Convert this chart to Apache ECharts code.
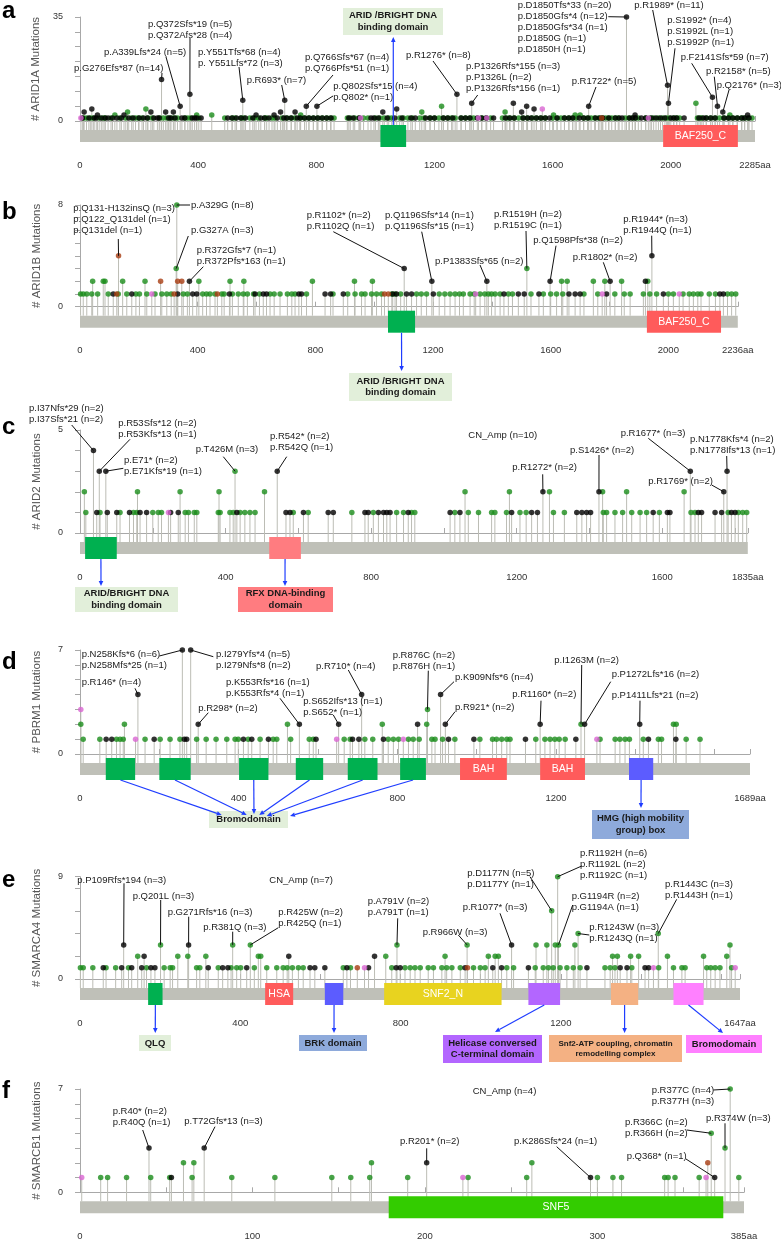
<!DOCTYPE html>
<html>
<head>
<meta charset="utf-8">
<script src="https://cdn.jsdelivr.net/npm/echarts@6/dist/echarts.min.js"></script>
<style>html,body{margin:0;padding:0;background:#fff;} #main{width:781px;height:1239px;}</style>
</head>
<body>
<div id="main"></div>
<script>
// ---------------- DATA ----------------
const GENES = ['ARID1A', 'ARID1B', 'ARID2', 'PBRM1', 'SMARCA4', 'SMARCB1'];
const PANEL_LETTERS = ['a', 'b', 'c', 'd', 'e', 'f'];
const LENGTHS = [2285, 2236, 1835, 1689, 1647, 385];
const Y_MAX = [35, 8, 5, 7, 9, 7];
const Y_TICK = [5, 1, 1, 1, 2, 1];
const X_TICK = [200, 200, 200, 200, 200, 50];
const X_LABELS = [
  [0, 400, 800, 1200, 1600, 2000],
  [0, 400, 800, 1200, 1600, 2000],
  [0, 400, 800, 1200, 1600],
  [0, 400, 800, 1200],
  [0, 400, 800, 1200],
  [0, 100, 200, 300]
];

// ARID1A
const ARID1A_truncating = [[276,14],[339,5],[372,9],[551,7],[693,7],[766,5],[802,5],[1276,9],[1326,6],[1722,5],[1850,35],[1989,12],[1992,6],[2141,8],[2158,5],[2176,3],[14,3],[40,4],[59,2],[149,2],[240,3],[290,3],[316,3],[596,2],[657,2],[679,3],[728,3],[1025,3],[1072,4],[1467,6],[1495,3],[1512,5],[1537,4],[1879,2],[2260,2]];
const ARID1A_truncating_single = [8,30,48,55,72,85,95,110,125,140,165,180,200,215,228,250,262,268,300,308,322,345,355,380,388,395,410,500,515,530,545,560,585,612,625,640,668,690,700,715,735,745,760,775,790,805,820,835,850,910,925,945,985,995,1010,1040,1065,1090,1120,1135,1170,1185,1200,1230,1245,1262,1290,1305,1320,1345,1360,1375,1400,1440,1455,1470,1500,1515,1528,1545,1560,1575,1590,1615,1640,1655,1668,1690,1705,1720,1745,1760,1770,1790,1812,1825,1835,1860,1870,1880,1900,1915,1935,1950,1965,1980,2000,2010,2020,2045,2095,2110,2120,2135,2150,2180,2195,2210,2225,2240,2250,2265];
const ARID1A_missense = [[118,2],[161,3],[223,4],[395,2],[446,2],[747,2],[1157,3],[1224,5],[1439,3],[1603,2],[1676,2],[1693,2],[2085,6],[2200,2]];
const ARID1A_missense_single = [12,22,35,45,65,78,85,105,135,155,175,188,198,210,230,245,270,282,295,305,318,330,355,365,375,402,490,515,525,545,555,575,590,605,625,632,650,660,685,700,715,728,745,760,775,790,805,820,835,848,860,905,915,930,945,960,975,1000,1015,1030,1045,1055,1082,1095,1110,1125,1150,1165,1185,1200,1215,1230,1245,1258,1270,1290,1305,1320,1332,1360,1375,1390,1430,1445,1455,1470,1485,1500,1515,1530,1545,1560,1575,1600,1615,1628,1640,1655,1668,1680,1705,1718,1730,1742,1755,1768,1780,1790,1800,1812,1822,1845,1858,1870,1880,1890,1915,1930,1942,1958,1972,1985,1995,2010,2020,2030,2090,2100,2105,2120,2135,2150,2165,2180,2195,2210,2225,2240,2250,2262,2275];
const ARID1A_inframe = [[1766,1]];
const ARID1A_other = [[3,1],[950,1],[1349,1],[1377,1],[1565,4],[1924,1]];

// ARID1B
const ARID1B_truncating = [[372,2],[1102,3],[1196,2],[1383,2],[1598,2],[1802,2],[1944,4],[1922,2]];
const ARID1B_truncating_single = [113,176,332,383,397,508,595,623,634,744,753,833,852,895,1063,1076,1110,1127,1201,1441,1490,1510,1560,1662,1683,1700,1790,1983,2175,2187];
const ARID1B_missense = [[329,8],[327,3],[43,2],[79,2],[85,2],[145,2],[221,2],[404,2],[510,2],[557,2],[790,2],[933,2],[994,2],[1519,3],[1637,2],[1656,2],[1745,2],[1784,2],[1841,2],[1930,2]];
const ARID1B_missense_single = [2,11,23,40,60,96,130,159,190,202,227,255,278,295,310,351,365,417,430,442,459,482,490,518,538,555,569,590,610,646,660,680,705,720,731,770,860,910,935,957,969,991,1008,1025,1060,1071,1090,1144,1160,1178,1221,1240,1258,1275,1290,1303,1326,1340,1360,1376,1388,1399,1411,1428,1456,1470,1533,1575,1600,1620,1641,1713,1760,1818,1850,1870,1915,1937,1960,2000,2017,2050,2071,2085,2100,2111,2139,2160,2201,2215,2229];
const ARID1B_inframe = [[131,4],[274,2],[332,2],[346,2],[125,1],[320,1],[467,1],[1035,1],[1048,1]];
const ARID1B_other = [[244,1],[1345,1],[1775,1],[2037,1]];

// ARID2
const ARID2_truncating = [[37,4],[53,3],[71,3],[542,3],[1272,2],[1426,2],[1677,3],[1769,2],[1778,3]];
const ARID2_truncating_single = [46,75,101,136,165,183,249,270,431,566,577,614,682,696,783,792,820,834,843,852,902,1017,1044,1186,1241,1257,1365,1379,1392,1403,1575,1614,1621,1699,1708,1745,1763,1790,1800];
const ARID2_missense = [[426,3],[12,2],[158,2],[275,2],[382,2],[507,2],[1058,2],[1180,2],[1290,2],[1436,2],[1502,2],[1660,2]];
const ARID2_missense_single = [16,55,110,147,156,200,215,224,289,298,314,321,380,385,412,421,440,453,467,481,586,627,747,806,870,889,911,920,1030,1067,1095,1131,1140,1172,1209,1226,1301,1331,1438,1447,1470,1491,1516,1539,1557,1592,1679,1690,1781,1809,1821,1832];
const ARID2_inframe = [];
const ARID2_other = [[243,1]];

// PBRM1
const PBRM1_truncating = [[258,7],[279,7],[146,4],[298,2],[553,2],[652,2],[710,4],[851,2],[909,4],[921,2],[1160,2],[1272,2],[1411,2]];
const PBRM1_truncating_single = [66,80,187,263,269,412,433,475,595,687,703,765,929,993,1123,1250,1433,1502];
const PBRM1_missense = [[2,2],[112,2],[523,2],[762,2],[874,2],[876,3],[1263,2],[1496,2],[1503,2]];
const PBRM1_missense_single = [8,50,92,101,109,164,202,227,252,294,318,343,370,391,399,424,454,487,496,531,578,588,666,681,718,738,777,790,803,828,840,855,887,895,914,945,1008,1040,1050,1063,1076,1084,1149,1172,1185,1197,1208,1223,1311,1349,1361,1374,1385,1420,1458,1466,1528,1563];
const PBRM1_inframe = [];
const PBRM1_other = [[2,3],[140,1],[647,1],[815,1],[1303,1]];

// SMARCA4
const SMARCA4_truncating = [[109,3],[271,3],[1077,3],[160,2],[521,2],[735,2]];
const SMARCA4_truncating_single = [58,104,129,154,177,187,320,356,369,416,574,586,611,666,720,789,799,961,1030,1052,1119,1265,1348,1365,1410,1419];
const SMARCA4_missense = [[201,3],[381,3],[425,3],[791,3],[966,3],[1177,6],[1192,9],[1194,3],[1243,4],[1443,4],[1138,3],[1165,3],[1186,3],[1235,3],[1622,3],[144,2],[244,2],[269,2],[314,2],[445,2],[451,2],[763,2],[911,2],[1019,2],[1036,2],[1044,2],[1329,2],[1341,2],[1374,2],[1394,2],[1466,2],[1556,2],[1614,2]];
const SMARCA4_missense_single = [1,8,32,65,89,121,166,210,225,231,291,299,345,377,391,401,435,466,491,507,517,530,545,557,657,675,778,811,824,836,849,869,882,903,915,928,949,982,999,1011,1065,1082,1136,1156,1169,1181,1198,1215,1231,1248,1310,1323,1335,1377,1444,1481,1502,1510,1564,1574,1585,1597,1626];
const SMARCA4_inframe = [[692,1],[967,1]];
const SMARCA4_other = [[710,1],[1431,1],[1635,1]];

// SMARCB1
const SMARCB1_truncating = [[40,3],[72,3],[201,2]];
const SMARCB1_truncating_single = [53,296,368];
const SMARCB1_missense = [[377,7],[366,4],[374,3],[60,2],[66,2],[169,2],[262,2]];
const SMARCB1_missense_single = [12,16,27,41,52,65,88,113,146,157,168,190,225,259,300,309,314,339,341,345,359,382];
const SMARCB1_inframe = [[364,2]];
const SMARCB1_other = [[1,1],[222,1],[363,1]];

// Domains: [start, end, label, kind]
const ARID1A_domains = [[1017,1104,'','ARID'],[1974,2227,'BAF250_C','BAF']];
const ARID1B_domains = [[1047,1139,'','ARID'],[1927,2179,'BAF250_C','BAF']];
const ARID2_domains = [[14,101,'','ARID'],[520,607,'','RFX']];
const PBRM1_domains = [[65,139,'','BROMO'],[200,279,'','BROMO'],[401,475,'','BROMO'],[544,613,'','BROMO'],[675,750,'','BROMO'],[807,872,'','BROMO'],[958,1076,'BAH','BAH'],[1160,1273,'BAH','BAH'],[1384,1445,'','HMG']];
const SMARCA4_domains = [[170,206,'','QLQ'],[462,532,'HSA','HSA'],[611,657,'','BRK'],[759,1052,'SNF2_N','SNF2'],[1119,1198,'','HEL'],[1325,1393,'','SNF2ATP'],[1481,1556,'','BROMO4']];
const SMARCB1_domains = [[179,373,'SNF5','SNF5']];

// ---------------- STYLE / LAYOUT ----------------
const FONT = "'Liberation Sans', Arial, Helvetica, sans-serif";
const DOT_COLORS = {truncating:'#000000', missense:'#1a8c1a', inframe:'#a83c12', other:'#d965d2'};
const DOMAIN_COLORS = {ARID:'#00b050', BAF:'#ff5b5b', RFX:'#ff7c80', BROMO:'#00b050', BAH:'#ff5b5b', HMG:'#5c5cff', QLQ:'#00b050', HSA:'#ff5b5b', BRK:'#5c5cff', SNF2:'#e8d31f', HEL:'#b366ff', SNF2ATP:'#f4b183', BROMO4:'#ff80ff', SNF5:'#33cc00'};
const GRID_PX = [
  {top:17, zero:121, right:755},
  {top:205, zero:306.7, right:737.8},
  {top:430, zero:533, right:747.8},
  {top:650, zero:754, right:750},
  {top:876.7, zero:979, right:740},
  {top:1089, zero:1192.3, right:744}
];
const LAY = {left:80, barTop:9, barH:12, domTop:4, domBot:26, axisOff:30};
const ARROW_COLOR = '#1f3dff';
const LINE_H = 11;

const MUTS = [
  {truncating:[ARID1A_truncating, ARID1A_truncating_single], missense:[ARID1A_missense, ARID1A_missense_single], inframe:[ARID1A_inframe, []], other:[ARID1A_other, []]},
  {truncating:[ARID1B_truncating, ARID1B_truncating_single], missense:[ARID1B_missense, ARID1B_missense_single], inframe:[ARID1B_inframe, []], other:[ARID1B_other, []]},
  {truncating:[ARID2_truncating, ARID2_truncating_single], missense:[ARID2_missense, ARID2_missense_single], inframe:[ARID2_inframe, []], other:[ARID2_other, []]},
  {truncating:[PBRM1_truncating, PBRM1_truncating_single], missense:[PBRM1_missense, PBRM1_missense_single], inframe:[PBRM1_inframe, []], other:[PBRM1_other, []]},
  {truncating:[SMARCA4_truncating, SMARCA4_truncating_single], missense:[SMARCA4_missense, SMARCA4_missense_single], inframe:[SMARCA4_inframe, []], other:[SMARCA4_other, []]},
  {truncating:[SMARCB1_truncating, SMARCB1_truncating_single], missense:[SMARCB1_missense, SMARCB1_missense_single], inframe:[SMARCB1_inframe, []], other:[SMARCB1_other, []]}
];
const DOMAINS = [ARID1A_domains, ARID1B_domains, ARID2_domains, PBRM1_domains, SMARCA4_domains, SMARCB1_domains];

// annotation layout (text pixel positions; anchor point in data units)
const ANNOTATIONS = [
  {g:0, at:[276,14], lines:['p.G276Efs*87 (n=14)'], x:74, y:68.3, from:[162,73]},
  {g:0, at:[339,5], lines:['p.A339Lfs*24 (n=5)'], x:104, y:52.3, from:[166,57]},
  {g:0, at:[372,9], lines:['p.Q372Sfs*19 (n=5)','p.Q372Afs*28 (n=4)'], x:148, y:24, from:[190,38]},
  {g:0, at:[551,7], lines:['p.Y551Tfs*68 (n=4)','p. Y551Lfs*72 (n=3)'], x:198, y:52.7, from:[239,67]},
  {g:0, at:[693,7], lines:['p.R693* (n=7)'], x:246.7, y:80, from:[281.7,85]},
  {g:0, at:[766,5], lines:['p.Q766Sfs*67 (n=4)','p.Q766Pfs*51 (n=1)'], x:305, y:57.3, from:[333,75]},
  {g:0, at:[802,5], lines:['p.Q802Sfs*15 (n=4)','p.Q802* (n=1)'], x:333.3, y:86, from:[333,96]},
  {g:0, at:[1276,9], lines:['p.R1276* (n=8)'], x:406, y:55.7, from:[433,61]},
  {g:0, at:[1326,6], lines:['p.P1326Rfs*155 (n=3)','p.P1326L (n=2)','p.P1326Rfs*156 (n=1)'], x:466, y:66.7, from:[477.7,95]},
  {g:0, at:[1722,5], lines:['p.R1722* (n=5)'], x:571.7, y:81, from:[596,87]},
  {g:0, at:[1850,35], lines:['p.D1850Tfs*33 (n=20)','p.D1850Gfs*4 (n=12)','p.D1850Gfs*34 (n=1)','p.D1850G (n=1)','p.D1850H (n=1)'], x:517.7, y:5.5, from:[608.3,16.7]},
  {g:0, at:[1989,12], lines:['p.R1989* (n=11)'], x:634.3, y:5.5, from:[652.7,10]},
  {g:0, at:[1992,6], lines:['p.S1992* (n=4)','p.S1992L (n=1)','p.S1992P (n=1)'], x:667.3, y:20, from:[675,48.3]},
  {g:0, at:[2141,8], lines:['p.F2141Sfs*59 (n=7)'], x:680.7, y:57.7, from:[691.7,63.3]},
  {g:0, at:[2158,5], lines:['p.R2158* (n=5)'], x:706, y:71.7, from:[714.3,76.7]},
  {g:0, at:[2176,3], lines:['p.Q2176* (n=3)'], x:716.7, y:85, from:[729,90]},

  {g:1, at:[131,4], lines:['p.Q131-H132insQ (n=3)','p.Q122_Q131del (n=1)','p.Q131del (n=1)'], x:73.3, y:208.3, from:[118.3,239]},
  {g:1, at:[329,8], lines:['p.A329G (n=8)'], x:191, y:205, from:[190,205]},
  {g:1, at:[327,3], lines:['p.G327A (n=3)'], x:191, y:230.7, from:[188.3,236]},
  {g:1, at:[372,2], lines:['p.R372Gfs*7 (n=1)','p.R372Pfs*163 (n=1)'], x:196.7, y:250.7, from:[203.3,266.7]},
  {g:1, at:[1102,3], lines:['p.R1102* (n=2)','p.R1102Q (n=1)'], x:306.7, y:215.7, from:[333.3,231.7]},
  {g:1, at:[1196,2], lines:['p.Q1196Sfs*14 (n=1)','p.Q1196Sfs*15 (n=1)'], x:385, y:215.7, from:[421.7,231.7]},
  {g:1, at:[1383,2], lines:['p.P1383Sfs*65 (n=2)'], x:435, y:261.7, from:[480,265]},
  {g:1, at:[1519,3], lines:['p.R1519H (n=2)','p.R1519C (n=1)'], x:494, y:214.3, from:[526,231]},
  {g:1, at:[1598,2], lines:['p.Q1598Pfs*38 (n=2)'], x:533.3, y:240, from:[556,245.7]},
  {g:1, at:[1802,2], lines:['p.R1802* (n=2)'], x:572.7, y:257.7, from:[603.3,262.3]},
  {g:1, at:[1944,4], lines:['p.R1944* (n=3)','p.R1944Q (n=1)'], x:623.3, y:219, from:[651.7,235.7]},

  {g:2, at:[37,4], lines:['p.I37Nfs*29 (n=2)','p.I37Sfs*21 (n=2)'], x:29, y:408.3, from:[71.7,425]},
  {g:2, at:[53,3], lines:['p.R53Sfs*12 (n=2)','p.R53Kfs*13 (n=1)'], x:118.3, y:423.3, from:[130,439.3]},
  {g:2, at:[71,3], lines:['p.E71* (n=2)','p.E71Kfs*19 (n=1)'], x:124, y:460, from:[123.3,468.3]},
  {g:2, at:[426,3], lines:['p.T426M (n=3)'], x:195.7, y:449, from:[223.3,456.7]},
  {g:2, at:[542,3], lines:['p.R542* (n=2)','p.R542Q (n=1)'], x:270, y:436.7, from:[286.7,456.7]},
  {g:2, lines:['CN_Amp (n=10)'], x:468.3, y:435},
  {g:2, at:[1272,2], lines:['p.R1272* (n=2)'], x:512.3, y:467.7, from:[542.7,474.3]},
  {g:2, at:[1426,2], lines:['p.S1426* (n=2)'], x:570, y:450, from:[599,455]},
  {g:2, at:[1677,3], lines:['p.R1677* (n=3)'], x:620.7, y:433.3, from:[648.3,438.3]},
  {g:2, at:[1778,3], lines:['p.N1778Kfs*4 (n=2)','p.N1778Ifs*13 (n=1)'], x:690, y:439.3, from:[726.7,456]},
  {g:2, at:[1769,2], lines:['p.R1769* (n=2)'], x:648.3, y:481.7, from:[711.7,485]},

  {g:3, at:[258,7], lines:['p.N258Kfs*6 (n=6)','p.N258Mfs*25 (n=1)'], x:81.7, y:654, from:[159.3,656]},
  {g:3, at:[279,7], lines:['p.I279Yfs*4 (n=5)','p.I279Nfs*8 (n=2)'], x:216, y:654, from:[213.3,656.7]},
  {g:3, at:[146,4], lines:['p.R146* (n=4)'], x:81.7, y:682.7, from:[135,688.3]},
  {g:3, at:[298,2], lines:['p.R298* (n=2)'], x:198.3, y:708.3, from:[208.3,712.7]},
  {g:3, at:[553,2], lines:['p.K553Rfs*16 (n=1)','p.K553Rfs*4 (n=1)'], x:226, y:682.7, from:[280,698.3]},
  {g:3, at:[652,2], lines:['p.S652Ifs*13 (n=1)','p.S652* (n=1)'], x:303.3, y:701, from:[333.3,715]},
  {g:3, at:[710,4], lines:['p.R710* (n=4)'], x:316, y:666.7, from:[348.3,670]},
  {g:3, at:[876,3], lines:['p.R876C (n=2)','p.R876H (n=1)'], x:392.7, y:655, from:[428.3,670.7]},
  {g:3, at:[909,4], lines:['p.K909Nfs*6 (n=4)'], x:455, y:677.7, from:[454,681.7]},
  {g:3, at:[921,2], lines:['p.R921* (n=2)'], x:455, y:707.7, from:[455,711.7]},
  {g:3, at:[1160,2], lines:['p.R1160* (n=2)'], x:512.3, y:694.3, from:[541,700.7]},
  {g:3, at:[1263,2], lines:['p.I1263M (n=2)'], x:554.3, y:660.7, from:[581.7,665]},
  {g:3, at:[1272,2], lines:['p.P1272Lfs*16 (n=2)'], x:611.7, y:674, from:[610.7,681.7]},
  {g:3, at:[1411,2], lines:['p.P1411Lfs*21 (n=2)'], x:611.7, y:695.7, from:[640,700.7]},

  {g:4, at:[109,3], lines:['p.P109Rfs*194 (n=3)'], x:77.3, y:880, from:[124,883.3]},
  {g:4, at:[201,3], lines:['p.Q201L (n=3)'], x:132.7, y:896, from:[160.7,900]},
  {g:4, at:[271,3], lines:['p.G271Rfs*16 (n=3)'], x:167.7, y:912.3, from:[188.7,916.7]},
  {g:4, at:[381,3], lines:['p.R381Q (n=3)'], x:203.3, y:927.3, from:[232.7,931.7]},
  {g:4, at:[425,3], lines:['p.R425W (n=2)','p.R425Q (n=1)'], x:278.3, y:912.3, from:[278.3,927.7]},
  {g:4, lines:['CN_Amp (n=7)'], x:269.3, y:880},
  {g:4, at:[791,3], lines:['p.A791V (n=2)','p.A791T (n=1)'], x:367.7, y:901, from:[397.7,918.3]},
  {g:4, at:[966,3], lines:['p.R966W (n=3)'], x:422.7, y:932.3, from:[458.3,935]},
  {g:4, at:[1077,3], lines:['p.R1077* (n=3)'], x:462.7, y:907.7, from:[500,913.3]},
  {g:4, at:[1177,6], lines:['p.D1177N (n=5)','p.D1177Y (n=1)'], x:467.3, y:873.3, from:[530,876.7]},
  {g:4, at:[1192,9], lines:['p.R1192H (n=6)','p.R1192L (n=2)','p.R1192C (n=1)'], x:580, y:853.3, from:[581.7,866]},
  {g:4, at:[1194,3], lines:['p.G1194R (n=2)','p.G1194A (n=1)'], x:571.7, y:896.7, from:[572.7,905]},
  {g:4, at:[1243,4], lines:['p.R1243W (n=3)','p.R1243Q (n=1)'], x:589.3, y:927.7, from:[589.3,935]},
  {g:4, at:[1443,4], lines:['p.R1443C (n=3)','p.R1443H (n=1)'], x:665, y:884, from:[676.7,899.3]},

  {g:5, at:[40,3], lines:['p.R40* (n=2)','p.R40Q (n=1)'], x:112.7, y:1111, from:[142.7,1130]},
  {g:5, at:[72,3], lines:['p.T72Gfs*13 (n=3)'], x:184.3, y:1121, from:[215,1126.7]},
  {g:5, lines:['CN_Amp (n=4)'], x:472.7, y:1091},
  {g:5, at:[201,2], lines:['p.R201* (n=2)'], x:400, y:1141, from:[426.7,1148.3]},
  {g:5, at:[296,1], lines:['p.K286Sfs*24 (n=1)'], x:514, y:1141, from:[556.7,1146.7]},
  {g:5, at:[377,7], lines:['p.R377C (n=4)','p.R377H (n=3)'], x:651.7, y:1090, from:[713.3,1090]},
  {g:5, at:[366,4], lines:['p.R366C (n=2)','p.R366H (n=2)'], x:625, y:1122.7, from:[686.7,1130]},
  {g:5, at:[374,3], lines:['p.R374W (n=3)'], x:706, y:1118.3, from:[725,1123.3]},
  {g:5, at:[368,1], lines:['p.Q368* (n=1)'], x:626.7, y:1156, from:[686,1159]}
];

const CALLOUTS = [
  {box:[343,8,100,27], fill:'#e2efda', lines:['ARID /BRIGHT DNA','binding domain'], arrows:[{g:0, aa:1060.5, side:'top', to:[393.3,37]}]},
  {box:[349,373,103,28], fill:'#e2efda', lines:['ARID /BRIGHT DNA','binding domain'], arrows:[{g:1, aa:1093, side:'bottom', to:[401.6,371]}]},
  {box:[75,587,103,25], fill:'#e2efda', lines:['ARID/BRIGHT DNA','binding domain'], arrows:[{g:2, aa:57.5, side:'bottom', to:[101,586]}]},
  {box:[238,587,95,25], fill:'#ff7c80', lines:['RFX DNA-binding','domain'], arrows:[{g:2, aa:563.5, side:'bottom', to:[285,586]}]},
  {box:[209,811,79,17], fill:'#e2efda', lines:['Bromodomain'], arrows:[
    {g:3, aa:102, side:'bottom', to:[221.7,815]}, {g:3, aa:239.5, side:'bottom', to:[246.7,815]},
    {g:3, aa:438, side:'bottom', to:[254,814]}, {g:3, aa:578.5, side:'bottom', to:[259.3,815]},
    {g:3, aa:712.5, side:'bottom', to:[266.7,816]}, {g:3, aa:839.5, side:'bottom', to:[290,816]}]},
  {box:[592,810,97,29], fill:'#8eaadb', lines:['HMG (high mobility','group) box'], arrows:[{g:3, aa:1414.5, side:'bottom', to:[641,808]}]},
  {box:[139,1035,32,16], fill:'#e2efda', lines:['QLQ'], arrows:[{g:4, aa:188, side:'bottom', to:[155.3,1033]}]},
  {box:[299,1035,68,16], fill:'#8eaadb', lines:['BRK domain'], arrows:[{g:4, aa:634, side:'bottom', to:[334,1033]}]},
  {box:[443,1035,99,28], fill:'#b366ff', lines:['Helicase conversed','C-terminal domain'], arrows:[{g:4, aa:1158.5, side:'bottom', to:[495,1032]}]},
  {box:[549,1035,133,27], fill:'#f4b183', lines:['Snf2-ATP coupling, chromatin','remodelling complex'], size:8, arrows:[{g:4, aa:1359, side:'bottom', to:[624.6,1033]}]},
  {box:[686,1035,76,18], fill:'#ff80ff', lines:['Bromodomain'], arrows:[{g:4, aa:1518.5, side:'bottom', to:[723,1033]}]}
];
const LETTER_Y = [11, 212, 427, 662, 880, 1091];

// ---------------- BUILD ----------------
const chart = echarts.init(document.getElementById('main'), null, {renderer:'canvas'});
const grids = [], xAxes = [], yAxes = [], series = [];

function expand(pair){ return pair[0].concat(pair[1].map(a => [a, 1])); }

GENES.forEach((gene, i) => {
  const gp = GRID_PX[i];
  grids.push({left:LAY.left, top:gp.top, width:gp.right - LAY.left, height:gp.zero - gp.top, containLabel:false, outerBoundsMode:'none'});
  const L = LENGTHS[i], labs = X_LABELS[i];
  xAxes.push({
    type:'value', gridIndex:i, min:0, max:L, interval:X_TICK[i], position:'bottom', offset:LAY.axisOff,
    axisLine:{show:true, lineStyle:{color:'#a8a8a8', width:1}},
    axisTick:{show:true, inside:true, length:5, lineStyle:{color:'#a8a8a8'}},
    splitLine:{show:false},
    axisLabel:{show:true, margin:9, color:'#333', fontSize:9.5, fontFamily:FONT, showMinLabel:true, showMaxLabel:true, hideOverlap:false,
      formatter: v => (v === L ? L + 'aa' : (labs.indexOf(v) >= 0 ? String(v) : ''))}
  });
  const M = Y_MAX[i];
  yAxes.push({
    type:'value', gridIndex:i, min:0, max:M, interval:Y_TICK[i], position:'left', offset:9,
    name:'# ' + gene + ' Mutations', nameLocation:'middle', nameGap:28, nameRotate:90,
    nameTextStyle:{fontSize:11.5, color:'#555', fontFamily:FONT},
    axisLine:{show:true, lineStyle:{color:'#a8a8a8', width:1}},
    axisTick:{show:true, inside:false, length:5, lineStyle:{color:'#a8a8a8'}},
    splitLine:{show:false},
    axisLabel:{show:true, margin:8, color:'#333', fontSize:9, fontFamily:FONT, showMaxLabel:true, showMinLabel:true,
      formatter: v => ((v === 0 || v === M) ? String(v) : '')}
  });

  const muts = MUTS[i];
  const classes = ['missense', 'truncating', 'inframe', 'other'];
  const all = [];
  classes.forEach(c => { expand(muts[c]).forEach(d => all.push(d)); });

  series.push({
    type:'custom', xAxisIndex:i, yAxisIndex:i, silent:true, z:1, clip:false,
    data:[[0, L]],
    renderItem:(params, api) => {
      const x1 = api.coord([api.value(0), 0])[0], x2 = api.coord([api.value(1), 0])[0];
      const cs = params.coordSys, y0 = cs.y + cs.height;
      return {type:'rect', shape:{x:x1, y:y0 + LAY.barTop, width:x2 - x1, height:LAY.barH}, style:{fill:'#bfc0b8'}};
    }
  });
  series.push({
    type:'custom', xAxisIndex:i, yAxisIndex:i, silent:true, z:2, clip:false,
    data: all,
    renderItem:(params, api) => {
      const p = api.coord([api.value(0), api.value(1)]);
      const cs = params.coordSys, base = cs.y + cs.height + LAY.barTop;
      return {type:'line', shape:{x1:p[0], y1:p[1], x2:p[0], y2:base}, style:{stroke:'#bcbdb5', lineWidth:1}};
    }
  });
  const doms = DOMAINS[i];
  series.push({
    type:'custom', xAxisIndex:i, yAxisIndex:i, silent:true, z:3, clip:false,
    data: doms.map(d => [d[0], d[1]]),
    renderItem:(params, api) => {
      const d = doms[params.dataIndex];
      const x1 = api.coord([api.value(0), 0])[0], x2 = api.coord([api.value(1), 0])[0];
      const cs = params.coordSys, y0 = cs.y + cs.height;
      const ch = [{type:'rect', shape:{x:x1, y:y0 + LAY.domTop, width:x2 - x1, height:LAY.domBot - LAY.domTop}, style:{fill:DOMAIN_COLORS[d[3]]}}];
      if (d[2]) ch.push({type:'text', style:{text:d[2], x:(x1 + x2) / 2, y:y0 + (LAY.domTop + LAY.domBot) / 2, align:'center', verticalAlign:'middle', fill:'#ffffff', font:'10.5px ' + FONT}});
      return {type:'group', children:ch};
    }
  });
  classes.forEach(c => {
    const data = expand(muts[c]);
    if (!data.length) return;
    series.push({
      type:'scatter', name:c, xAxisIndex:i, yAxisIndex:i, z:5, silent:true,
      data, symbol:'circle', symbolSize:5.5,
      itemStyle:{color:DOT_COLORS[c], borderWidth:0}
    });
  });
});

chart.setOption({
  animation:false,
  backgroundColor:'#ffffff',
  grid:grids, xAxis:xAxes, yAxis:yAxes, series
});

// ---------------- ANNOTATIONS (graphic) ----------------
function arrowEls(x1, y1, x2, y2){
  const dx = x2 - x1, dy = y2 - y1, len = Math.hypot(dx, dy), ux = dx / len, uy = dy / len;
  const hl = 5, hw = 2.3;
  const bx = x2 - ux * hl, by = y2 - uy * hl;
  return [
    {type:'line', shape:{x1:x1, y1:y1, x2:bx, y2:by}, style:{stroke:ARROW_COLOR, lineWidth:1.2}, z:30, silent:true},
    {type:'polygon', shape:{points:[[x2, y2], [bx - uy * hw, by + ux * hw], [bx + uy * hw, by - ux * hw]]}, style:{fill:ARROW_COLOR}, z:30, silent:true}
  ];
}
const els = [];
PANEL_LETTERS.forEach((l, i) => {
  els.push({type:'text', x:2, y:LETTER_Y[i], style:{text:l, font:'bold 24px ' + FONT, fill:'#000', align:'left', verticalAlign:'middle'}, z:30, silent:true});
});
ANNOTATIONS.forEach(a => {
  a.lines.forEach((t, k) => {
    els.push({type:'text', x:a.x, y:a.y + k * LINE_H, style:{text:t, font:'9.5px ' + FONT, fill:'#1a1a1a', align:'left', verticalAlign:'middle'}, z:30, silent:true});
  });
  if (a.at) {
    const p = chart.convertToPixel({gridIndex:a.g}, a.at);
    els.push({type:'line', shape:{x1:a.from[0], y1:a.from[1], x2:p[0], y2:p[1]}, style:{stroke:'#111', lineWidth:1}, z:25, silent:true});
  }
});
CALLOUTS.forEach(c => {
  const [bx, by, bw, bh] = c.box;
  els.push({type:'rect', shape:{x:bx, y:by, width:bw, height:bh}, style:{fill:c.fill}, z:20, silent:true});
  const fs = c.size || 9.5, lh = fs + 2;
  const n = c.lines.length, cy = by + bh / 2;
  c.lines.forEach((t, k) => {
    els.push({type:'text', x:bx + bw / 2, y:cy + (k - (n - 1) / 2) * lh, style:{text:t, font:'bold ' + fs + 'px ' + FONT, fill:'#1a1a1a', align:'center', verticalAlign:'middle'}, z:22, silent:true});
  });
  c.arrows.forEach(ar => {
    const z0 = chart.convertToPixel({gridIndex:ar.g}, [0, 0])[1];
    const x = chart.convertToPixel({gridIndex:ar.g}, [ar.aa, 0])[0];
    const y = z0 + (ar.side === 'top' ? LAY.domTop : LAY.domBot);
    arrowEls(x, y, ar.to[0], ar.to[1]).forEach(e => els.push(e));
  });
});
chart.setOption({graphic:{elements:els}});
</script>
</body>
</html>
